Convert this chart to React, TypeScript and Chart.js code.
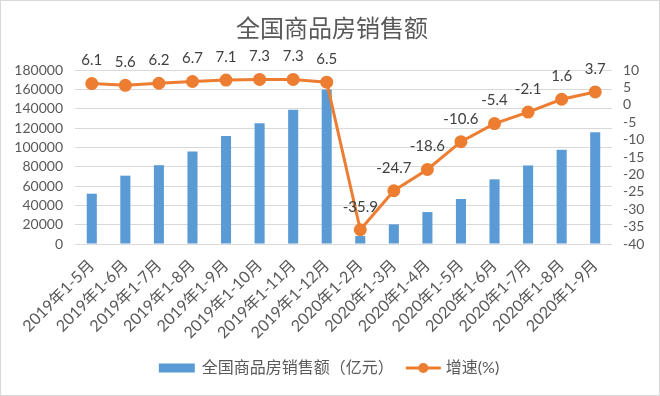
import React, { useEffect, useRef } from "react";
import { Chart, registerables } from "chart.js";

Chart.register(...registerables);

const FONT = 'Lato, "Noto Sans CJK SC", sans-serif';

const categories = [
  "2019年1-5月", "2019年1-6月", "2019年1-7月", "2019年1-8月", "2019年1-9月",
  "2019年1-10月", "2019年1-11月", "2019年1-12月", "2020年1-2月", "2020年1-3月",
  "2020年1-4月", "2020年1-5月", "2020年1-6月", "2020年1-7月", "2020年1-8月", "2020年1-9月",
];
const salesValues = [52048, 70698, 81511, 95646, 111702, 125013, 139006, 159725, 8203, 20365, 33037, 46571, 66895, 81235, 97540, 115647];
const growthValues = [6.1, 5.6, 6.2, 6.7, 7.1, 7.3, 7.3, 6.5, -35.9, -24.7, -18.6, -10.6, -5.4, -2.1, 1.6, 3.7];
const titleText = "全国商品房销售额";
const salesLabel = "全国商品房销售额（亿元）";
const growthLabel = "增速(%)";

const BLUE = "#5B9BD5";
const ORANGE = "#ED7D31";
const GREY = "#595959";

const extrasPlugin = {
  id: "extras",
  beforeDraw(chart: any) {
    const ctx = chart.ctx;
    ctx.save();
    ctx.fillStyle = "#ffffff";
    ctx.fillRect(0, 0, chart.width, chart.height);
    ctx.restore();
  },
  afterDraw(chart: any) {
    const ctx = chart.ctx;
    ctx.save();
    // border
    ctx.strokeStyle = "#D9D9D9";
    ctx.lineWidth = 1;
    ctx.strokeRect(0.5, 0.5, chart.width - 1, chart.height - 1);
    // title
    ctx.fillStyle = GREY;
    ctx.font = `24px ${FONT}`;
    ctx.textAlign = "center";
    ctx.textBaseline = "middle";
    ctx.fillText(titleText, 332, 29);
    // data labels
    const meta = chart.getDatasetMeta(1);
    ctx.font = `15px ${FONT}`;
    ctx.fillStyle = "#404040";
    meta.data.forEach((pt: any, i: number) => {
      ctx.fillText(String(growthValues[i]), pt.x, pt.y - 23);
    });
    // legend
    const ly = 368;
    ctx.font = `16px ${FONT}`;
    ctx.textAlign = "left";
    ctx.fillStyle = GREY;
    const w1 = ctx.measureText(salesLabel).width;
    const w2 = ctx.measureText(growthLabel).width;
    const total = 36 + 7 + w1 + 12 + 35 + 5 + w2;
    let x = (chart.width - total) / 2 - 1;
    ctx.fillStyle = BLUE;
    ctx.fillRect(x, ly - 4.5, 36, 9);
    x += 36 + 7;
    ctx.fillStyle = GREY;
    ctx.fillText(salesLabel, x, ly);
    x += w1 + 12;
    ctx.strokeStyle = ORANGE;
    ctx.lineWidth = 3;
    ctx.beginPath();
    ctx.moveTo(x, ly);
    ctx.lineTo(x + 35, ly);
    ctx.stroke();
    ctx.fillStyle = ORANGE;
    ctx.beginPath();
    ctx.arc(x + 17.5, ly, 5, 0, Math.PI * 2);
    ctx.fill();
    x += 35 + 5;
    ctx.fillStyle = GREY;
    ctx.fillText(growthLabel, x, ly);
    ctx.restore();
  },
};

export default function App() {
  const ref = useRef<HTMLCanvasElement | null>(null);
  useEffect(() => {
    if (!ref.current) return;
    Chart.defaults.font.family = FONT;
    const chart = new Chart(ref.current, {
      type: "bar",
      data: {
        labels: categories,
        datasets: [
          {
            type: "bar",
            label: salesLabel,
            data: salesValues,
            backgroundColor: BLUE,
            yAxisID: "y",
            barPercentage: 0.3,
            categoryPercentage: 1,
            order: 2,
          },
          {
            type: "line",
            label: growthLabel,
            data: growthValues,
            borderColor: ORANGE,
            backgroundColor: ORANGE,
            borderWidth: 3,
            pointRadius: 5,
            pointHoverRadius: 5,
            yAxisID: "y1",
            order: 1,
            tension: 0,
          } as any,
        ],
      },
      options: {
        animation: false,
        responsive: true,
        maintainAspectRatio: false,
        layout: { padding: { top: 70, left: 0, right: 0, bottom: 57 } },
        plugins: {
          legend: { display: false },
          title: { display: false },
          tooltip: { enabled: false },
        },
        scales: {
          x: {
            grid: { display: false },
            border: { display: false },
            ticks: {
              autoSkip: false,
              maxRotation: 45,
              minRotation: 45,
              color: GREY,
              font: { size: 16, family: FONT },
              padding: 4,
            },
            afterFit(scale: any) {
              scale.height = 95;
            },
          },
          y: {
            position: "left",
            min: 0,
            max: 180000,
            grid: { color: "#D9D9D9", drawTicks: false },
            border: { display: false },
            ticks: {
              stepSize: 20000,
              autoSkip: false,
              color: GREY,
              font: { size: 14, family: FONT },
              padding: 12,
              callback: (v: any) => String(v),
            },
            afterFit(scale: any) {
              scale.width = 75;
            },
          },
          y1: {
            position: "right",
            min: -40,
            max: 10,
            grid: { display: false, drawTicks: false },
            border: { display: false },
            ticks: {
              stepSize: 5,
              autoSkip: false,
              color: GREY,
              font: { size: 14, family: FONT },
              padding: 11,
              callback: (v: any) => String(v),
            },
            afterFit(scale: any) {
              scale.width = 48;
            },
          },
        },
      } as any,
      plugins: [extrasPlugin],
    });
    return () => chart.destroy();
  }, []);
  return (
    <div style={{ position: "fixed", left: 0, top: 0, width: 660, height: 396 }}>
      <canvas ref={ref} />
    </div>
  );
}
